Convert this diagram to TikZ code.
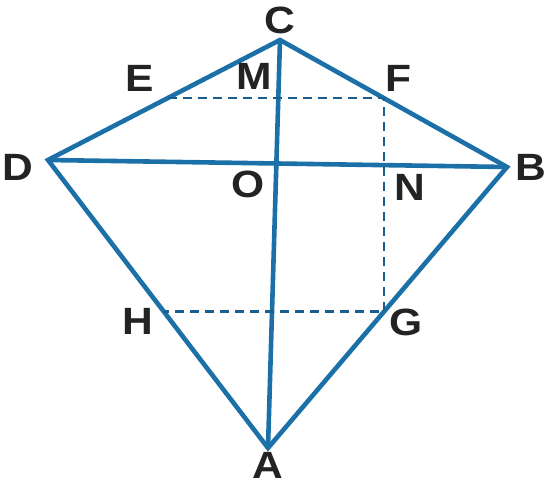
\documentclass[tikz,border=0pt]{standalone}
\usepackage{fontspec}
\setmainfont{Liberation Sans}
\newfontfamily\lblfont{Liberation Sans}[FakeStretch=1.12]
\usetikzlibrary{positioning}
\definecolor{kiteblue}{RGB}{28,112,168}
\definecolor{labelgray}{RGB}{35,35,35}

\begin{document}
\begin{tikzpicture}[
  x=1pt,y=-1pt,
  side/.style={draw=kiteblue,line width=4.6pt,line join=miter},
  aux/.style={draw=kiteblue!85!black,line width=2.4pt,dash pattern=on 9pt off 6pt},
  lbl/.style={text=labelgray,font=\lblfont\fontsize{38}{38}\selectfont\bfseries,inner sep=0pt}
]
\useasboundingbox (0,0) rectangle (556,484);
% kite corners
\coordinate (C) at (280,40);
\coordinate (D) at (48,160);
\coordinate (B) at (507,167);
\coordinate (A) at (268,448);
% points on the sides
\coordinate (E) at (168,98);
\coordinate (F) at (384,98);
\coordinate (G) at (384,311.6);
\coordinate (H) at (164,311.6);
\draw[side] (C) -- (B) -- (A) -- (D) -- cycle;
\draw[side] (D) -- (B);
\draw[side] (C) -- (A);
\draw[aux] (E) -- (F) -- (G) -- (H);
% letters
\node[lbl] (lC) at (280,20) {C};
\node[lbl] (lM) at (254,76) {M};
\node[lbl] (lE) at (140,78) {E};
\node[lbl] (lF) at (398,78) {F};
\node[lbl] (lD) at (18,167) {D};
\node[lbl] (lO) at (248,184) {O};
\node[lbl] (lN) at (410,187) {N};
\node[lbl] (lB) at (531,167) {B};
\node[lbl] (lH) at (138,321) {H};
\node[lbl] (lG) at (406,322) {G};
\node[lbl] (lA) at (268,465) {A};
\end{tikzpicture}
\end{document}
